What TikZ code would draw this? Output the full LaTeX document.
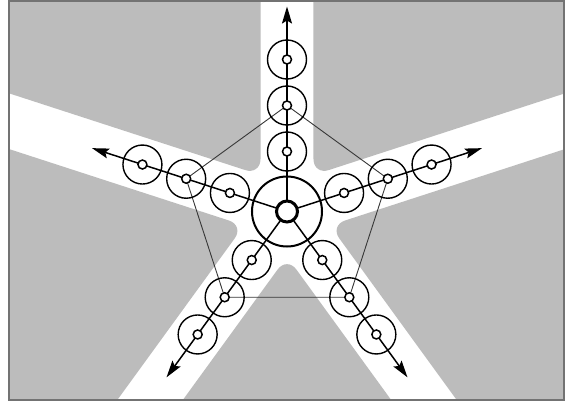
\documentclass[tikz,border=0pt]{standalone}
\usetikzlibrary{arrows.meta,calc}
\definecolor{bggray}{RGB}{188,188,188}
\definecolor{framegray}{RGB}{115,115,115}
\definecolor{pentagray}{RGB}{55,55,55}
\pgfdeclarelayer{bg}
\pgfsetlayers{bg,main}
\begin{document}
\begin{tikzpicture}[x=1pt,y=1pt,
  ring/.style={circle, draw=black, line width=1.4pt, minimum size=39pt, inner sep=0pt},
  dotc/.style={circle, draw=black, fill=white, line width=1.5pt, minimum size=9pt, inner sep=0pt},
  armline/.style={line width=1.5pt, -{Stealth[length=17pt,width=10pt,inset=3pt]}},
  pentaline/.style={draw=pentagray, line width=0.9pt},
  hubring/.style={circle, draw=black, line width=2pt, minimum size=70pt, inner sep=0pt},
  hubcore/.style={circle, draw=black, fill=white, line width=3pt, minimum size=21pt, inner sep=0pt}
]
\useasboundingbox (-287,-195.5) rectangle (280,211.5);
% hub
\node[hubring] (hub) at (0,0) {};
% arm nodes
\foreach \k/\a in {1/90,2/162,3/234,4/306,5/18} {
  \node[ring] (r\k a) at (\a:60) {};
  \node[dotc] (d\k a) at (\a:60) {};
  \node[ring] (r\k b) at (\a:106) {};
  \node[dotc] (d\k b) at (\a:106) {};
  \node[ring] (r\k c) at (\a:152) {};
  \node[dotc] (d\k c) at (\a:152) {};
  \coordinate (t\k) at (\a:205);
}
\node[hubcore] (core) at (0,0) {};
\begin{pgfonlayer}{bg}
  \begin{scope}
    \clip (-278,-188.5) rectangle (277,210.5);
    \foreach \a in {90,162,234,306,378} {
      \fill[bggray, rounded corners=16pt]
        ($(\a+36:45.08)+(\a:800)$) -- (\a+36:45.08) -- ($(\a+36:45.08)+(\a+72:800)$) -- cycle;
    }
  \end{scope}
  \draw[framegray, line width=1.6pt] (-278,-188.5) rectangle (277,210.5);
  \draw[pentaline] (d1b.center) -- (d5b.center) -- (d4b.center) -- (d3b.center) -- (d2b.center) -- cycle;
  \foreach \k in {1,...,5} {
    \draw[armline] (core.center) -- (t\k);
  }
\end{pgfonlayer}
\end{tikzpicture}
\end{document}
